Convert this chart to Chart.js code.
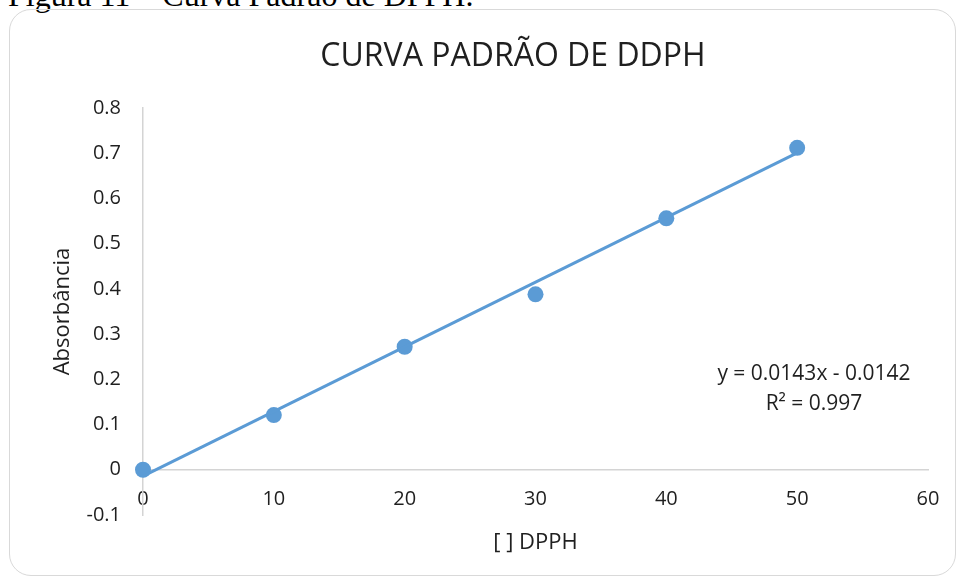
<!DOCTYPE html>
<html>
<head>
<meta charset="utf-8">
<script src="https://cdn.jsdelivr.net/npm/chart.js@4.4.1/dist/chart.umd.min.js"></script>
<style>
  body { margin: 0; width: 958px; height: 577px; overflow: hidden; background: #fff; position: relative; }
  #caption { position: absolute; left: 8px; top: -21px; font: 32px/1 "Liberation Serif", serif; color: #000; white-space: nowrap; }
  #frame { position: absolute; left: 9px; top: 9px; width: 945px; height: 565px; border: 1.5px solid #d9d9d9; border-radius: 22px; }
  #title { position: absolute; left: 263px; width: 500px; top: 38px; text-align: center; font: 32px/1 "Open Sans", sans-serif; color: #1f1f1f; white-space: nowrap; }
  #eq { position: absolute; left: 684px; width: 260px; top: 357px; text-align: center; font: 21px/30px "Open Sans", sans-serif; color: #1f1f1f; }
  #chart { position: absolute; left: 0; top: 0; }
</style>
</head>
<body>
<div id="caption">Figura 11 – Curva Padrão de DPPH.</div>
<div id="frame"></div>
<canvas id="chart" width="958" height="577"></canvas>
<div id="title">CURVA PADRÃO DE DDPH</div>
<div id="eq">y = 0.0143x - 0.0142<br>R² = 0.997</div>
<script>
// dados
const concentrations = [0, 10, 20, 30, 40, 50];
const absorbance = [0, 0.121, 0.272, 0.388, 0.556, 0.712];

// linha de tendência (y = 0.0143x - 0.0142) nas extremidades
const trendX = [0, 50];
const trendY = [-0.0142, 0.7008];

const xTicks = [0, 10, 20, 30, 40, 50, 60];
const yTicks = [-0.1, 0, 0.1, 0.2, 0.3, 0.4, 0.5, 0.6, 0.7, 0.8];

const blue = "#5b9bd5";
const axisColor = "#d4d4d4";
const textColor = "#1f1f1f";

const points = concentrations.map((x, i) => ({ x, y: absorbance[i] }));
const trend = trendX.map((x, i) => ({ x, y: trendY[i] }));

new Chart(document.getElementById("chart").getContext("2d"), {
  type: "scatter",
  data: {
    datasets: [
      {
        label: "Linear",
        data: trend,
        showLine: true,
        borderColor: blue,
        borderWidth: 3,
        pointRadius: 0,
        clip: false
      },
      {
        label: "Absorbância",
        data: points,
        backgroundColor: blue,
        borderColor: blue,
        borderWidth: 0,
        pointRadius: 8,
        clip: false
      }
    ]
  },
  options: {
    responsive: false,
    animation: false,
    layout: { padding: { left: 40, right: 30, top: 108, bottom: 62 } },
    plugins: {
      legend: { display: false },
      tooltip: { enabled: false },
      title: { display: false }
    },
    scales: {
      x: {
        type: "linear",
        position: { y: 0 },
        min: xTicks[0],
        max: xTicks[xTicks.length - 1],
        afterBuildTicks: s => { s.ticks = xTicks.map(v => ({ value: v })); },
        grid: { display: false, drawTicks: false },
        border: { display: true, color: axisColor, width: 1.5 },
        ticks: { padding: 18, color: textColor, font: { family: "Open Sans", size: 20 } },
        title: {
          display: true,
          text: "[ ] DPPH",
          color: textColor,
          font: { family: "Open Sans", size: 22 },
          padding: { top: 0, bottom: 0 }
        }
      },
      y: {
        min: yTicks[0],
        max: yTicks[yTicks.length - 1],
        afterBuildTicks: s => { s.ticks = yTicks.map(v => ({ value: v })); },
        afterFit: s => { s.width = 103; },
        grid: { display: false, drawTicks: false },
        border: { display: true, color: axisColor, width: 1.5 },
        ticks: {
          padding: 22,
          color: textColor,
          font: { family: "Open Sans", size: 20 },
          callback: v => String(Number(v.toFixed(1)))
        },
        title: {
          display: true,
          text: "Absorbância",
          color: textColor,
          font: { family: "Open Sans", size: 22 },
          padding: { top: 10, bottom: 0 }
        }
      }
    }
  }
});
</script>
</body>
</html>
